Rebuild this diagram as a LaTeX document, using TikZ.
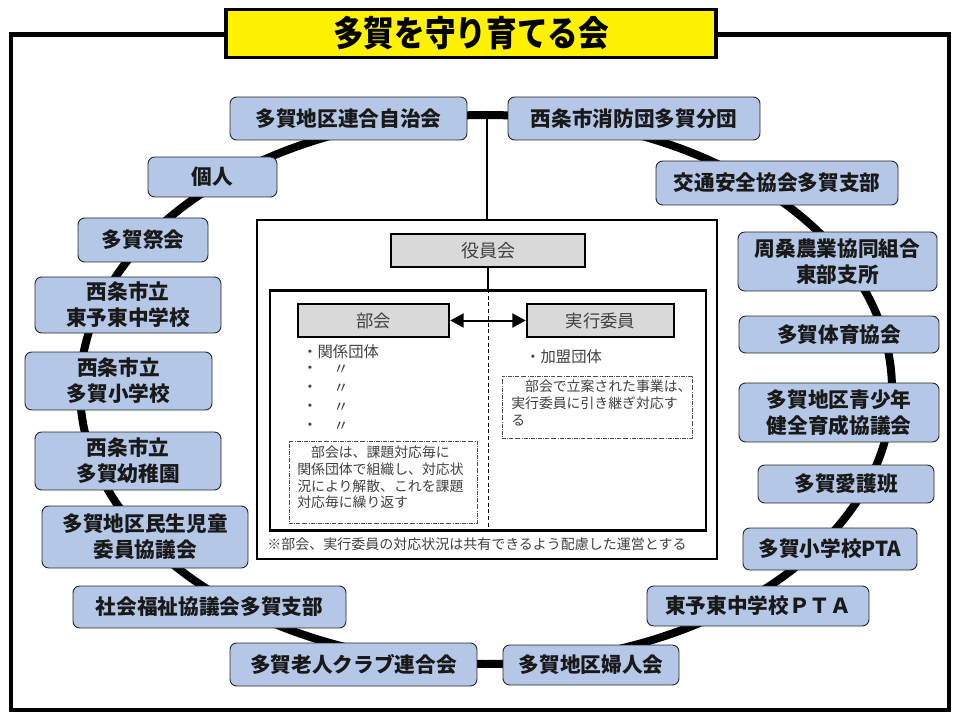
\documentclass[tikz,border=0pt]{standalone}
\usepackage{fontspec}
\newfontfamily\jp{Noto Sans CJK JP}
\usetikzlibrary{arrows.meta}
\definecolor{boxblue}{HTML}{B4C7E7}
\definecolor{boxgray}{HTML}{D9D9D9}
\definecolor{txtgray}{HTML}{404040}
\tikzset{
	boxsize/.style 2 args={minimum width=#1*0.75pt, minimum height=#2*0.75pt},
	member/.style={draw=black!85, line width=0.7pt, fill=boxblue, rounded corners=5pt, inner sep=0pt, align=center, text=black!90, font=\jp\bfseries\fontsize{15.5}{19.5}\selectfont},
	officebox/.style={draw=black, line width=2pt, fill=boxgray, inner sep=0pt, text=txtgray},
	notebox/.style={draw=black!70, densely dashdotted, line width=0.5pt, inner sep=0pt},
	smalltext/.style={anchor=west, inner sep=0pt, text=txtgray, font=\jp\fontsize{11.5}{14}\selectfont},
	notetext/.style={anchor=north west, inner sep=0pt, align=left, text=txtgray, font=\jp\fontsize{10.4}{12.5}\selectfont}
}

\begin{document}
\begin{tikzpicture}[x=0.75pt, y=-0.75pt]
	%%%%% START %%%%%
	\useasboundingbox (0, 0) rectangle (960, 720);
	
	\draw[line width=3.2pt] (11, 34.5) rectangle (949, 710);
	\node[draw=black, line width=2.5pt, fill=yellow, boxsize={490}{48}, inner sep=0pt, font=\jp\bfseries\fontsize{23}{26}\selectfont] (title) at (471, 33.5) {\scalebox{1}[1.15]{多賀を守り育てる会}};
	
	% ring
	\draw[line width=6pt] (486, 389.5) ellipse [x radius=406, y radius=274.5];
	\coordinate (ringtop) at (487, 115);
	
	% members
	\node[member, boxsize={237}{43}] (jichi) at (348.5, 118.5) {多賀地区連合自治会};
	\node[member, boxsize={252}{43}] (shobo) at (634, 118.5) {西条市消防団多賀分団};
	\node[member, boxsize={242}{44}] (kotsu) at (777, 183) {交通安全協会多賀支部};
	\node[member, boxsize={199}{59}] (nokyo) at (837.5, 261.5) {周桑農業協同組合\\東部支所};
	\node[member, boxsize={200}{37}] (taiiku) at (839, 334.5) {多賀体育協会};
	\node[member, boxsize={200}{59}] (seishonen) at (839, 412.5) {多賀地区青少年\\健全育成協議会};
	\node[member, boxsize={176}{38}] (aigo) at (846, 484) {多賀愛護班};
	\node[member, boxsize={174}{42}] (ptasho) at (830, 549) {多賀小学校PTA};
	\node[member, boxsize={222}{40}] (ptachu) at (758, 606) {東予東中学校ＰＴＡ};
	\node[member, boxsize={176}{40}] (fujin) at (591, 665) {多賀地区婦人会};
	\node[member, boxsize={247}{43}] (rojin) at (353.5, 664.5) {多賀老人クラブ連合会};
	\node[member, boxsize={273}{42}] (shakyo) at (209.5, 607) {社会福祉協議会多賀支部};
	\node[member, boxsize={206}{62}] (minsei) at (145, 537) {多賀地区民生児童\\委員協議会};
	\node[member, boxsize={186}{58}] (yochien) at (128, 461) {西条市立\\多賀幼稚園};
	\node[member, boxsize={187}{58}] (shogaku) at (118.5, 381) {西条市立\\多賀小学校};
	\node[member, boxsize={186}{56}] (chugaku) at (128, 305) {西条市立\\東予東中学校};
	\node[member, boxsize={130}{44}] (matsuri) at (143, 240) {多賀祭会};
	\node[member, boxsize={129}{40}] (kojin) at (212.5, 177) {個人};
	
	% council
	\node[draw=black, line width=2pt, fill=white, boxsize={460}{339}, inner sep=0pt] (council) at (487, 389.5) {};
	\draw[line width=1pt] (ringtop) -- (council.north);
	\node[officebox, boxsize={194}{33}, font=\jp\fontsize{13.5}{16}\selectfont] (yakuin) at (488, 250.5) {役員会};
	\node[draw=black, line width=2pt, boxsize={436}{240}, inner sep=0pt] (work) at (488, 410.5) {};
	\draw[line width=1.5pt] (yakuin.south) -- (work.north);
	\draw[densely dashed, line width=0.6pt] (work.north) -- (work.south);
	
	\node[officebox, boxsize={151}{33}, font=\jp\fontsize{13}{16}\selectfont] (bukai) at (373.5, 320.5) {部会};
	\node[officebox, boxsize={147}{33}, font=\jp\fontsize{13}{16}\selectfont] (jikko) at (600.5, 320.5) {実行委員};
	\draw[{Triangle[length=10pt, width=10.5pt]}-{Triangle[length=10pt, width=10.5pt]}, line width=1.5pt] (bukai.east) -- (jikko.west);
	
	\node[smalltext] (kankei) at (302, 352) {・関係団体};
	\foreach \y in {370, 389, 408, 427}{
		\node[smalltext] at (302, \y) {・};
		\node[smalltext] at (333, \y) {〃};
	}
	\node[smalltext] (kamei) at (525, 357) {・加盟団体};
	
	\node[notebox, boxsize={188}{82}] (bukainote) at (383, 482) {};
	\node[notetext] at (297, 446) {\hspace{1em}部会は、課題対応毎に\\関係団体で組織し、対応状\\況により解散、これを課題\\対応毎に繰り返す};
	\node[notebox, boxsize={190}{62}] (jikkonote) at (597, 407) {};
	\node[notetext] at (511, 380) {\hspace{1em}部会で立案された事業は、\\実行委員に引き継ぎ対応す\\る};
	
	\node[anchor=west, inner sep=0pt, text=txtgray, font=\jp\fontsize{10.5}{12}\selectfont] (footnote) at (267, 544) {※部会、実行委員の対応状況は共有できるよう配慮した運営とする};
	%%%%% END %%%%%
\end{tikzpicture}
\end{document}
